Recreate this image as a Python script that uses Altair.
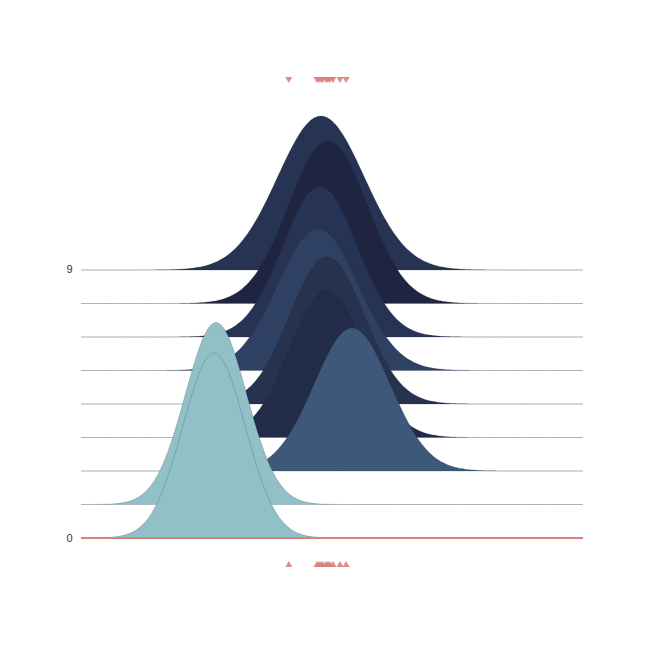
import altair as alt
import pandas as pd

# Ridge rows, bottom (0) to top (8)
rows = [0, 1, 2, 3, 4, 5, 6, 7, 8]
centers = [26.5, 26.9, 54.0, 49.0, 49.0, 47.2, 47.6, 49.2, 47.8]
spreads = [6.2, 6.1, 7.6, 7.4, 7.4, 8.0, 7.4, 7.8, 8.6]
peaks = [6.21, 6.11, 4.80, 4.94, 4.94, 4.77, 5.07, 5.47, 5.17]

# Rug marks (top and bottom triangles)
rug_values = [41.4, 47.0, 47.4, 47.8, 48.2, 48.8, 49.2, 49.6, 50.2, 51.6, 52.8]

row_colors = ["#91c1c6", "#91c1c6", "#3d5878", "#222b47", "#27324f",
              "#2e4163", "#263354", "#1f2540", "#263352"]
rug_color = "#d9827a"

step = 9 / 8
W, H = 502, 484

ridges = pd.DataFrame({"row": rows, "mu": centers, "sd": spreads, "peak": peaks})
rug = pd.DataFrame({"x": rug_values})

x_scale = alt.Scale(domain=[0, 100], nice=False, zero=False)
y_scale = alt.Scale(domain=[-0.873, 15.38], nice=False, zero=False)
y_axis = alt.Axis(values=[0, 9], format="d", ticks=False, domain=False, grid=False,
                  labelPadding=9, title=None, labelFont="Liberation Sans",
                  labelFontSize=11, labelColor="#333333")

curves = alt.Chart(ridges).transform_calculate(
    x="sequence(0, 100.25, 0.25)"
).transform_flatten(["x"]).transform_calculate(
    base=f"datum.row * {step}",
    top=f"datum.row * {step} + datum.peak * exp(-0.5 * pow((datum.x - datum.mu) / datum.sd, 2))",
)

layers = []
for r in reversed(rows):
    layers.append(
        curves.transform_filter(alt.datum.row == r).mark_area(
            color=row_colors[r], stroke="#1f2540", strokeOpacity=0.25,
            strokeWidth=0.8, interpolate="monotone"
        ).encode(
            x=alt.X("x:Q", scale=x_scale, axis=None),
            y=alt.Y("top:Q", scale=y_scale, axis=y_axis),
            y2="base:Q",
        )
    )

zero_line = alt.Chart(pd.DataFrame({"y": [0]})).mark_rule(
    color=rug_color, strokeWidth=2
).encode(y=alt.Y("y:Q", scale=y_scale, axis=y_axis))

rug_top = alt.Chart(rug).mark_point(
    shape="triangle-down", filled=True, size=50, color=rug_color, opacity=0.9
).encode(x=alt.X("x:Q", scale=x_scale, axis=None), y=alt.value(0))

rug_bottom = alt.Chart(rug).mark_point(
    shape="triangle-up", filled=True, size=50, color=rug_color, opacity=0.9
).encode(x=alt.X("x:Q", scale=x_scale, axis=None), y=alt.value(H))

chart = alt.layer(*layers, zero_line, rug_top, rug_bottom).properties(
    width=W, height=H,
    autosize=alt.AutoSizeParams(type="none"),
    padding={"left": 73, "top": 72, "right": 57, "bottom": 76},
).configure_view(stroke=None)

chart.save("out.html", embed_options={"renderer": "svg", "actions": False})
